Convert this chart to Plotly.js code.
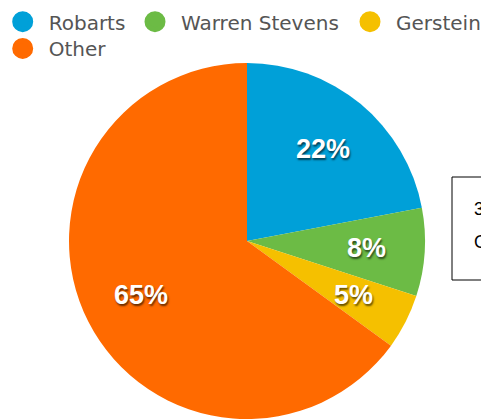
<!DOCTYPE html>
<html>
<head>
<meta charset="utf-8">
<script src="https://cdn.plot.ly/plotly-3.0.1.min.js"></script>
<style>html,body{margin:0;padding:0;background:#fff;}#chart{width:481px;height:419px;}</style>
</head>
<body>
<div id="chart"></div>
<script>
// Data
var categories = ["Robarts", "Warren Stevens", "Gerstein", "Other"];
var shares = [22, 8, 5, 65];
var sliceColors = ["#00a0d8", "#6cbb45", "#f5c000", "#ff6a00"];
var boxLines = ["3", "O"];

var W = 481, H = 419;
// pie geometry (layout)
var pieLeft = 67, pieRight = 427, pieTop = 63;
var domX = [pieLeft / W, pieRight / W];
var domY = [0, 1 - pieTop / H];
var R = Math.min(pieRight - pieLeft, H - pieTop) / 2;
var cx = (pieLeft + pieRight) / 2;
var cy = pieTop + R;

// legend layout (pixel anchor of each entry: circle centre)
var legendCircleX = [22.7, 155, 370, 22.7];
var legendRow = [0, 0, 0, 1];
var legendIds = ["legend", "legend2", "legend3", "legend4"];

var traces = [{
  type: "pie",
  labels: categories,
  values: shares,
  marker: {colors: sliceColors, line: {width: 0}},
  sort: false,
  direction: "clockwise",
  rotation: 0,
  textinfo: "none",
  hoverinfo: "none",
  showlegend: false,
  domain: {x: domX, y: domY}
}];

// legend entries (circle markers) built from the categories
categories.forEach(function (c, i) {
  traces.push({
    type: "scatter",
    mode: "markers",
    x: [null], y: [null],
    name: c,
    legend: legendIds[i],
    marker: {size: 16, color: sliceColors[i], symbol: "circle", line: {width: 5, color: sliceColors[i]}},
    hoverinfo: "none",
    showlegend: true
  });
});

// percentage labels placed from the data along each slice's mid-angle
var total = shares.reduce(function (a, b) { return a + b; }, 0);
var annotations = [];
var cum = 0;
shares.forEach(function (v, i) {
  var mid = (cum + v / 2) / total * 2 * Math.PI;
  cum += v;
  var px = cx + 0.67 * R * Math.sin(mid);
  var py = cy - 0.67 * R * Math.cos(mid);
  annotations.push({
    xref: "paper", yref: "paper",
    x: px / W, y: 1 - py / H,
    xanchor: "center", yanchor: "middle",
    showarrow: false,
    text: "<b>" + Math.round(v / total * 100) + "%</b>",
    font: {family: "Liberation Sans, Arial, sans-serif", size: 27, color: "#ffffff",
           shadow: "1px 2px 2px rgba(0,0,0,0.6)"}
  });
});

// side note box text
boxLines.forEach(function (t, i) {
  annotations.push({
    xref: "paper", yref: "paper",
    x: 472 / W, y: 1 - (208.5 + 33 * i) / H,
    xanchor: "left", yanchor: "middle",
    showarrow: false,
    text: t,
    font: {family: "Liberation Sans, Arial, sans-serif", size: 18, color: "#000000"}
  });
});

var layout = {
  width: W, height: H,
  margin: {l: 0, r: 0, t: 0, b: 0, pad: 0, autoexpand: false},
  paper_bgcolor: "#ffffff",
  plot_bgcolor: "#ffffff",
  xaxis: {visible: false},
  yaxis: {visible: false},
  showlegend: true,
  shapes: [{
    type: "rect", xref: "paper", yref: "paper",
    x0: 452 / W, x1: 1.1, y0: 1 - 280 / H, y1: 1 - 177 / H,
    line: {color: "#000000", width: 1}, fillcolor: "#ffffff"
  }],
  annotations: annotations
};

legendIds.forEach(function (id, i) {
  var topPx = (legendRow[i] === 0 ? 22.3 : 49) - 20.1;
  layout[id] = {
    orientation: "h",
    x: (legendCircleX[i] - 26) / W,
    y: 1 - topPx / H,
    xanchor: "left", yanchor: "top",
    itemwidth: 42,
    font: {family: "DejaVu Sans, sans-serif", size: 20, color: "#555555"},
    bgcolor: "rgba(0,0,0,0)",
    borderwidth: 0,
    itemclick: false, itemdoubleclick: false
  };
});

Plotly.newPlot("chart", traces, layout, {staticPlot: true, displayModeBar: false});
</script>
</body>
</html>
